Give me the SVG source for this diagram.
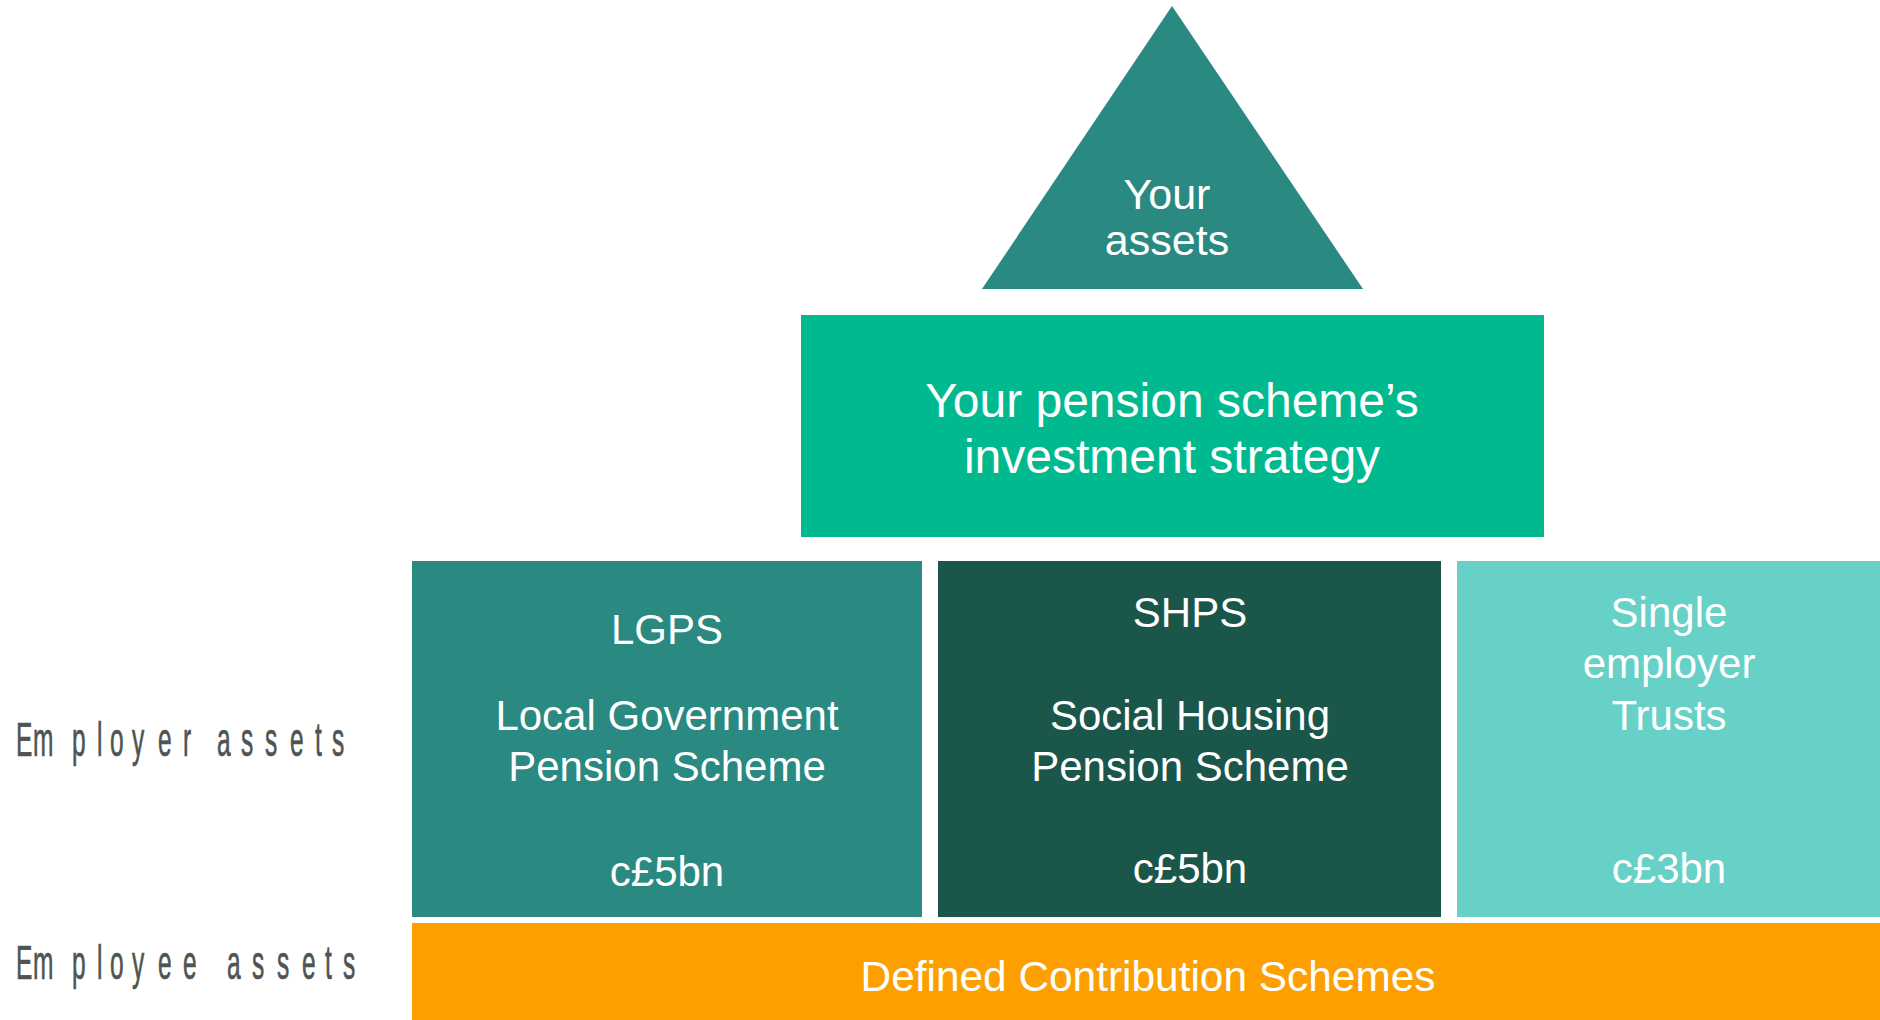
<svg xmlns="http://www.w3.org/2000/svg" width="1880" height="1020" viewBox="0 0 1880 1020">
  <style>
    .lbl { font-family: "Liberation Sans", Arial, sans-serif; fill: #ffffff; text-anchor: middle; }
    .side { font-family: "Liberation Sans", Arial, sans-serif; fill: #4e5452; stroke: #4e5452; stroke-width: 0.7px; font-size: 49px; }
  </style>
  <rect width="1880" height="1020" fill="#ffffff"/>

  <!-- apex: your assets -->
  <g id="your-assets">
    <polygon points="1172,6 982,289 1363,289" fill="#2a8980"/>
    <text class="lbl" font-size="43" x="1167" y="209">Your</text>
    <text class="lbl" font-size="43" x="1167" y="255">assets</text>
  </g>

  <!-- investment strategy tier -->
  <g id="investment-strategy">
    <rect x="801" y="315" width="743" height="222" fill="#00b98e"/>
    <text class="lbl" font-size="48" x="1172" y="417">Your pension scheme’s</text>
    <text class="lbl" font-size="48" x="1172" y="473">investment strategy</text>
  </g>

  <!-- employer schemes tier -->
  <g id="lgps">
    <rect x="412" y="561" width="510" height="356" fill="#2a8980"/>
    <text class="lbl" font-size="42" x="667" y="644">LGPS</text>
    <text class="lbl" font-size="42" x="667" y="730">Local Government</text>
    <text class="lbl" font-size="42" x="667" y="781">Pension Scheme</text>
    <text class="lbl" font-size="42" x="667" y="886">c£5bn</text>
  </g>

  <g id="shps">
    <rect x="938" y="561" width="503" height="356" fill="#1a5649"/>
    <text class="lbl" font-size="42" x="1190" y="627">SHPS</text>
    <text class="lbl" font-size="42" x="1190" y="730">Social Housing</text>
    <text class="lbl" font-size="42" x="1190" y="781">Pension Scheme</text>
    <text class="lbl" font-size="42" x="1190" y="883">c£5bn</text>
  </g>

  <g id="single-employer">
    <rect x="1457" y="561" width="423" height="356" fill="#67d1c7"/>
    <text class="lbl" font-size="42" x="1669" y="627">Single</text>
    <text class="lbl" font-size="42" x="1669" y="678">employer</text>
    <text class="lbl" font-size="42" x="1669" y="730">Trusts</text>
    <text class="lbl" font-size="42" x="1669" y="883">c£3bn</text>
  </g>

  <!-- employee tier -->
  <g id="defined-contribution">
    <rect x="412" y="923" width="1468" height="97" fill="#fd9f00"/>
    <text class="lbl" font-size="42.4" x="1148" y="991">Defined Contribution Schemes</text>
  </g>

  <!-- row captions, narrow letterforms spaced out -->
  <g id="row-labels">
    <text class="side" transform="translate(0,756) scale(0.5,1)" x="32 66 144 194 220 264 316 366 400 434 482 530 580 630 664" y="0">Employer assets</text>
    <text class="side" transform="translate(0,979) scale(0.5,1)" x="32 66 144 194 220 264 316 366 410 454 504 554 604 650 686" y="0">Employee assets</text>
  </g>

  <g id="connectors"></g>
</svg>
